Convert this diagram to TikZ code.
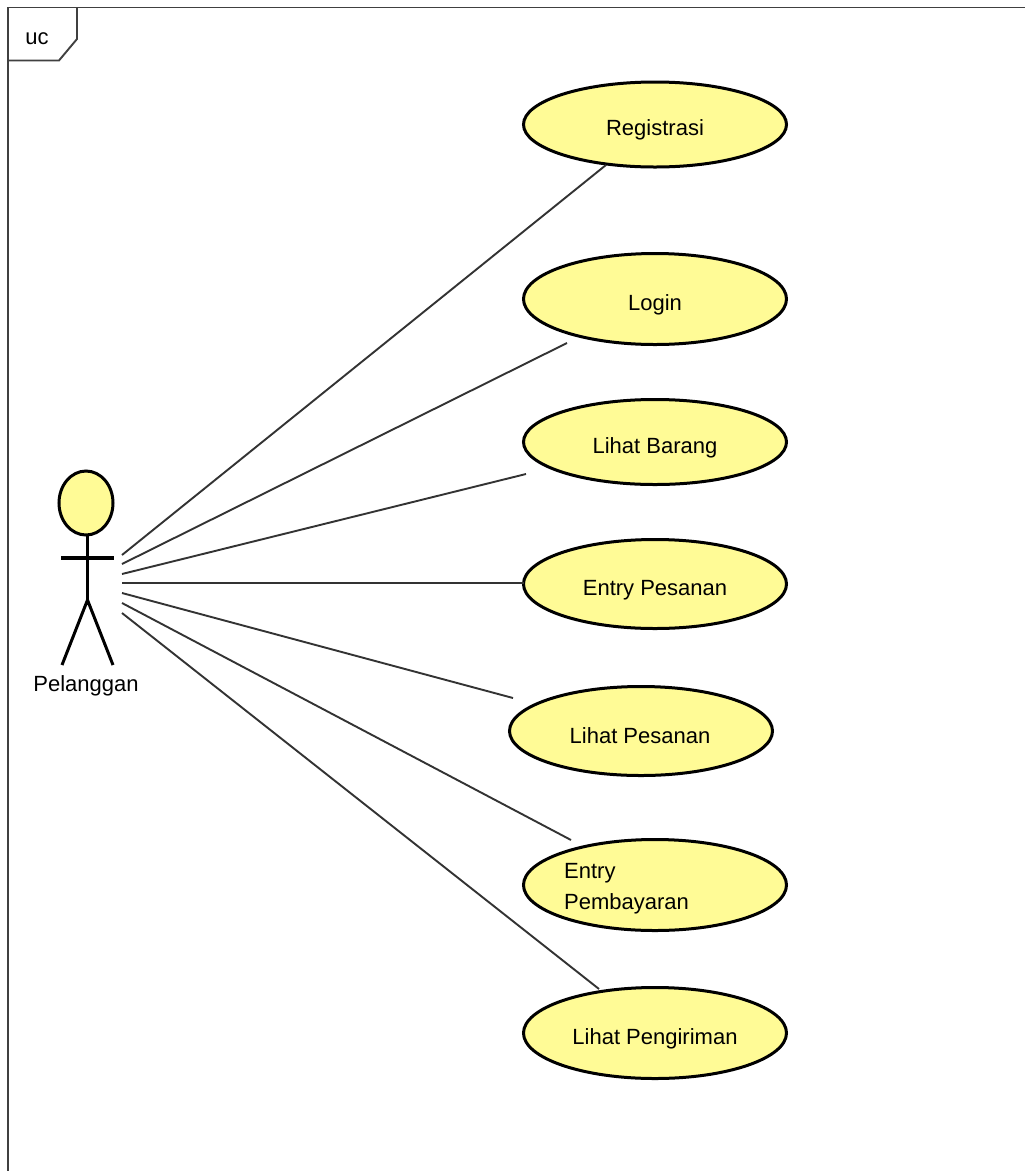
\documentclass[tikz,border=0pt]{standalone}
\usepackage{fontspec}
\setmainfont{Liberation Sans}
\usetikzlibrary{shapes.geometric}
\begin{document}
\begin{tikzpicture}[x=1pt,y=-1pt,
 uc/.style={ellipse,draw=black,line width=3pt,fill=ucfill,inner sep=0pt,outer sep=0pt},
 lbl/.style={font=\fontsize{22}{31}\selectfont,text=black,inner sep=0pt,align=left},
 conn/.style={draw=black!80,line width=1.9pt},
 frame/.style={draw=black!75,line width=1.9pt},
 limb/.style={draw=black,line width=3pt},
 arm/.style={draw=black,line width=4pt}]
\definecolor{ucfill}{HTML}{FFFB96}
\useasboundingbox (0,0) rectangle (1025,1171);
\fill[white] (0,0) rectangle (1025,1171);
\draw[frame] (8,1171) -- (8,7.5) -- (1025,7.5);
\draw[frame] (8,60.5) -- (59,60.5) -- (77,39) -- (77,7.5);
\node[lbl,anchor=base] (uc) at (37,44) {uc};
\node[uc,minimum width=263pt,minimum height=85pt] (a) at (655,124.5) {};
\node[uc,minimum width=263pt,minimum height=91pt] (b) at (655,299) {};
\node[uc,minimum width=263pt,minimum height=85pt] (c) at (655,442) {};
\node[uc,minimum width=263pt,minimum height=89pt] (d) at (655,584) {};
\node[uc,minimum width=263pt,minimum height=89pt] (e) at (641,731) {};
\node[uc,minimum width=263pt,minimum height=91pt] (f) at (655,885) {};
\node[uc,minimum width=263pt,minimum height=91pt] (g) at (655,1033) {};
\node[lbl,anchor=base] (ta) at (655,135) {Registrasi};
\node[lbl,anchor=base] (tb) at (655,310) {Login};
\node[lbl,anchor=base] (tc) at (655,453) {Lihat Barang};
\node[lbl,anchor=base] (td) at (655,595) {Entry Pesanan};
\node[lbl,anchor=base] (te) at (640,743) {Lihat Pesanan};
\node[lbl,anchor=base west] (tf1) at (564,878) {Entry};
\node[lbl,anchor=base west] (tf2) at (564,909) {Pembayaran};
\node[lbl,anchor=base] (tg) at (655,1044) {Lihat Pengiriman};
\node[ellipse,draw=black,line width=3pt,fill=ucfill,minimum width=54pt,minimum height=64pt,inner sep=0pt] (head) at (86,503) {};
\coordinate (hip) at (87.5,600);
\coordinate (neck) at (87.5,535);
\coordinate (armL) at (61,558);
\coordinate (armR) at (114,558);
\coordinate (footL) at (62,665);
\coordinate (footR) at (113,665);
\draw[limb] (neck) -- (hip);
\draw[arm] (armL) -- (armR);
\draw[limb] (footL) -- (hip) -- (footR);
\node[lbl,anchor=base] (actor) at (86,691) {Pelanggan};
\coordinate (s1) at (122,555);
\coordinate (s2) at (122,564);
\coordinate (s3) at (122,574);
\coordinate (s4) at (122,583);
\coordinate (s5) at (122,593);
\coordinate (s6) at (122,603);
\coordinate (s7) at (122,613);
\coordinate (e1) at (606,165);
\coordinate (e2) at (567,343);
\coordinate (e3) at (526,474);
\coordinate (e4) at (524,583);
\coordinate (e5) at (513,698);
\coordinate (e6) at (571,840);
\coordinate (e7) at (599,989);
\draw[conn] (s1) -- (e1);
\draw[conn] (s2) -- (e2);
\draw[conn] (s3) -- (e3);
\draw[conn] (s4) -- (e4);
\draw[conn] (s5) -- (e5);
\draw[conn] (s6) -- (e6);
\draw[conn] (s7) -- (e7);
\end{tikzpicture}
\end{document}
